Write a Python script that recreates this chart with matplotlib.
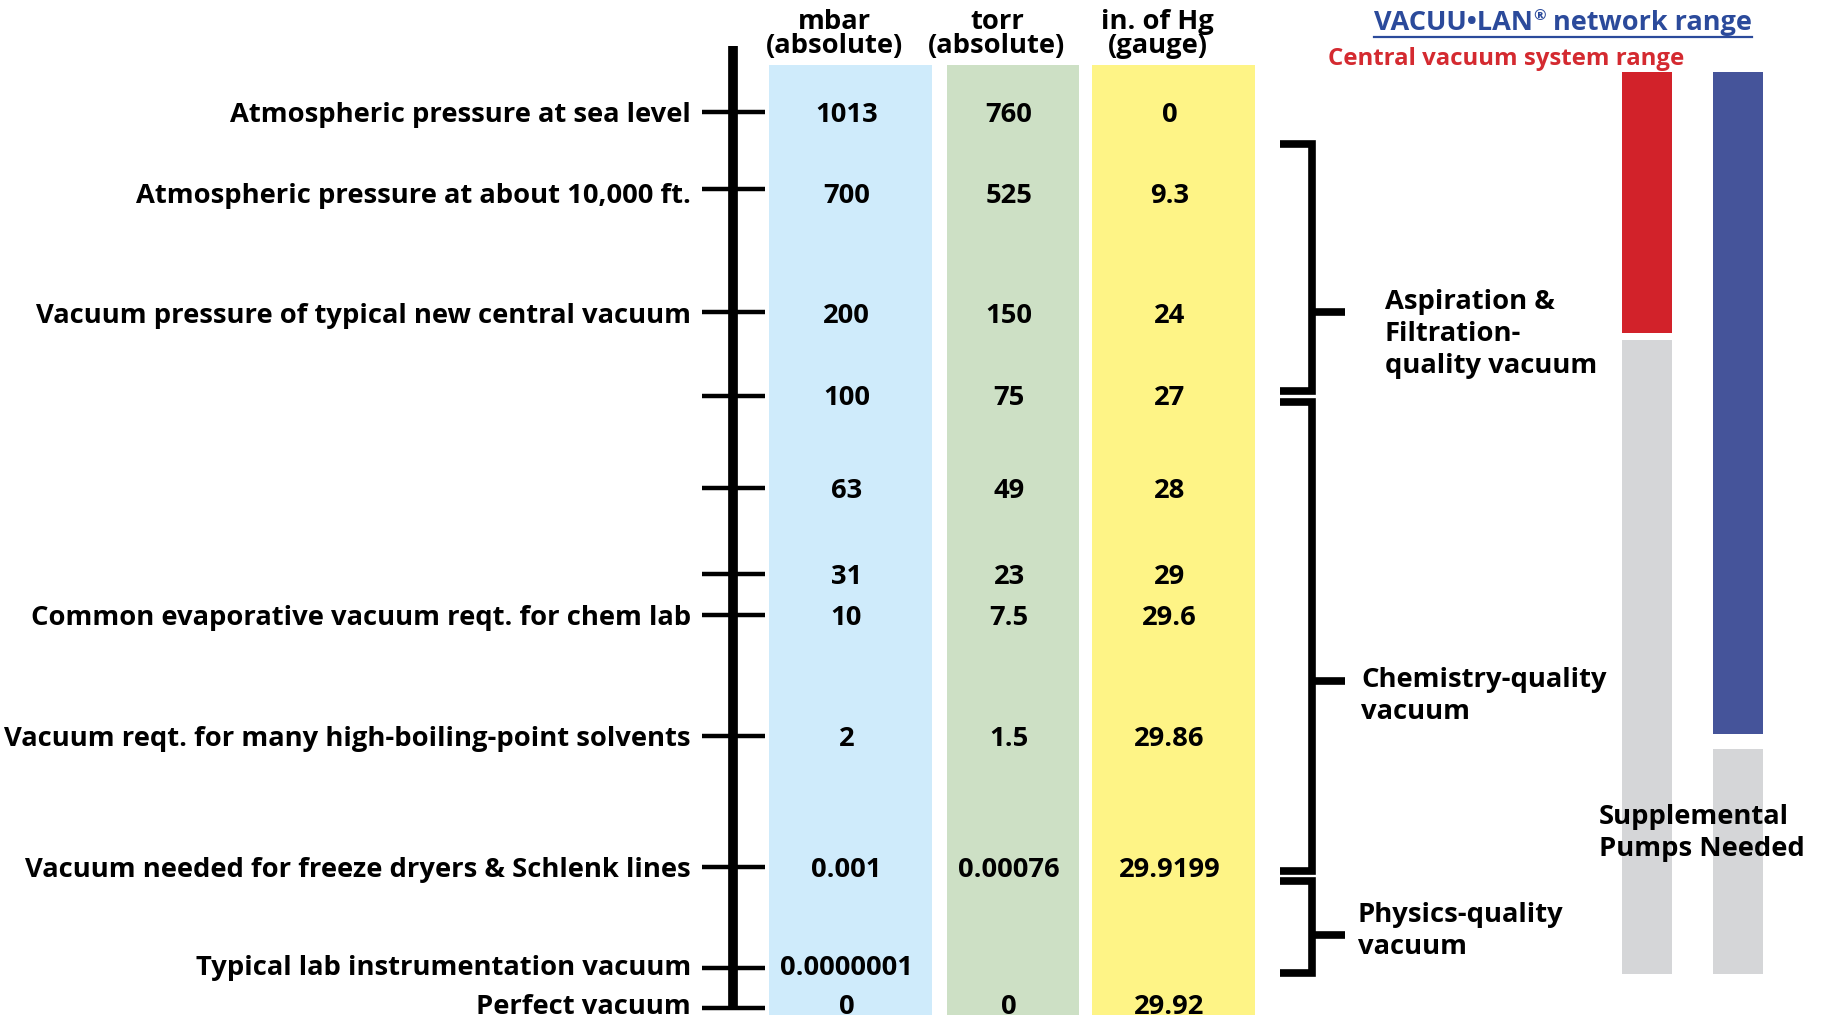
import matplotlib.pyplot as plt

plt.rcParams['font.family'] = ['Open Sans', 'DejaVu Sans']
plt.rcParams['font.weight'] = 'bold'

# rows of the pressure scale (top = atmosphere, bottom = perfect vacuum)
labels = ['Atmospheric pressure at sea level',
          'Atmospheric pressure at about 10,000 ft.',
          'Vacuum pressure of typical new central vacuum',
          '', '', '',
          'Common evaporative vacuum reqt. for chem lab',
          'Vacuum reqt. for many high-boiling-point solvents',
          'Vacuum needed for freeze dryers & Schlenk lines',
          'Typical lab instrumentation vacuum',
          'Perfect vacuum']
mbar = ['1013', '700', '200', '100', '63', '31', '10', '2', '0.001', '0.0000001', '0']
torr = ['760', '525', '150', '75', '49', '23', '7.5', '1.5', '0.00076', '', '0']
in_hg = ['0', '9.3', '24', '27', '28', '29', '29.6', '29.86', '29.9199', '', '29.92']
columns = ['mbar\n(absolute)', 'torr\n(absolute)', 'in. of Hg\n(gauge)']

# quality groups shown with brackets
groups = ['Aspiration &\nFiltration-\nquality vacuum', 'Chemistry-quality\nvacuum', 'Physics-quality\nvacuum']

# range bars on the right
ranges = ['Central vacuum system range', 'VACUU\u2022LAN\u00ae network range']
supplemental = 'Supplemental\nPumps Needed'

# layout (pixels from top / left of the picture)
row_y = [112, 189, 312, 396, 488, 574, 615, 736, 867, 968, 1008]
text_dy = [3, 7, 4, 2, 3, 3, 3, 3, 3, 0, -1]
col_x = [(769, 932), (947, 1079), (1092, 1255)]
col_colors = ['#cfebfb', '#cde0c5', '#fef486']
group_span = [(144, 391), (402, 871), (881, 973)]
group_mid = [312, 681, 935]
group_text = [(1385, 334), (1361, 696), (1358, 931)]
bar_x = [(1622, 1672), (1713, 1763)]
bar_end = [333, 734]
gray_start = [340, 749]
bar_top = 72
bar_bottom = 974
bar_colors = ['#d2222a', '#45549a']

fig = plt.figure(figsize=(18.25, 10.21), dpi=100)
ax = fig.add_axes([0, 0, 1, 1])
ax.set_xlim(0, 1825)
ax.set_ylim(1021, 0)
ax.axis('off')

fs = 19.7

# coloured unit columns
for (x0, x1), c, head in zip(col_x, col_colors, columns):
    ax.bar((x0 + x1) / 2, 1015 - 65, bottom=65, width=x1 - x0, color=c, zorder=0)
    ax.text((x0 + x1) / 2 - 16, 34, head, fontsize=fs, ha='center', va='center',
            linespacing=0.86)

for col, vals in zip(col_x, [mbar, torr, in_hg]):
    cx = (col[0] + col[1]) / 2 - 4
    for y, dy, v in zip(row_y, text_dy, vals):
        ax.text(cx, y + dy, v, fontsize=fs, ha='center', va='center')

# main scale with tick marks
ax.plot([733, 733], [46, 1009], color='black', lw=7, solid_capstyle='butt')
for y, dy, lab in zip(row_y, text_dy, labels):
    ax.plot([702, 765], [y, y], color='black', lw=3.2, solid_capstyle='butt')
    if lab:
        ax.text(691, y + dy, lab, fontsize=fs, ha='right', va='center')

# brackets
for (y0, y1), ym, g, (tx, ty) in zip(group_span, group_mid, groups, group_text):
    ax.plot([1280, 1312, 1312, 1280], [y0, y0, y1, y1], color='black', lw=5.5,
            solid_joinstyle='miter', solid_capstyle='butt')
    ax.plot([1312, 1345], [ym, ym], color='black', lw=5.5, solid_capstyle='butt')
    ax.text(tx, ty, g, fontsize=fs, ha='left', va='center', linespacing=1.3)

# range bars
for (x0, x1), end, g0, c in zip(bar_x, bar_end, gray_start, bar_colors):
    ax.bar((x0 + x1) / 2, end - bar_top, bottom=bar_top, width=x1 - x0, color=c)
    ax.bar((x0 + x1) / 2, bar_bottom - g0, bottom=g0, width=x1 - x0, color='#d5d6d8')

ax.text(1599, 833, supplemental, fontsize=fs, ha='left', va='center', linespacing=1.28)

ax.text(1506, 59, ranges[0], fontsize=17.3, color='#d42a30', ha='center', va='center')

# title with small registered sign and underline
title_blue = '#2b4a9b'
r = fig.canvas.get_renderer()
base, reg, rest = ranges[1].partition('\u00ae')
parts = [(base, 19.5, 0), (reg, 11, -7), (rest, 19.5, 0)]
widths = []
for s, size, dy in parts:
    t = ax.text(0, 0, s, fontsize=size)
    widths.append(t.get_window_extent(r).width)
    t.remove()
x = 1563 - sum(widths) / 2
start = x
for (s, size, dy), w in zip(parts, widths):
    ax.text(x, 23 + dy, s, fontsize=size, color=title_blue, ha='left', va='center')
    x += w
ax.plot([start, x], [37, 37], color=title_blue, lw=1.6)

fig.savefig('out.png', dpi=100)
